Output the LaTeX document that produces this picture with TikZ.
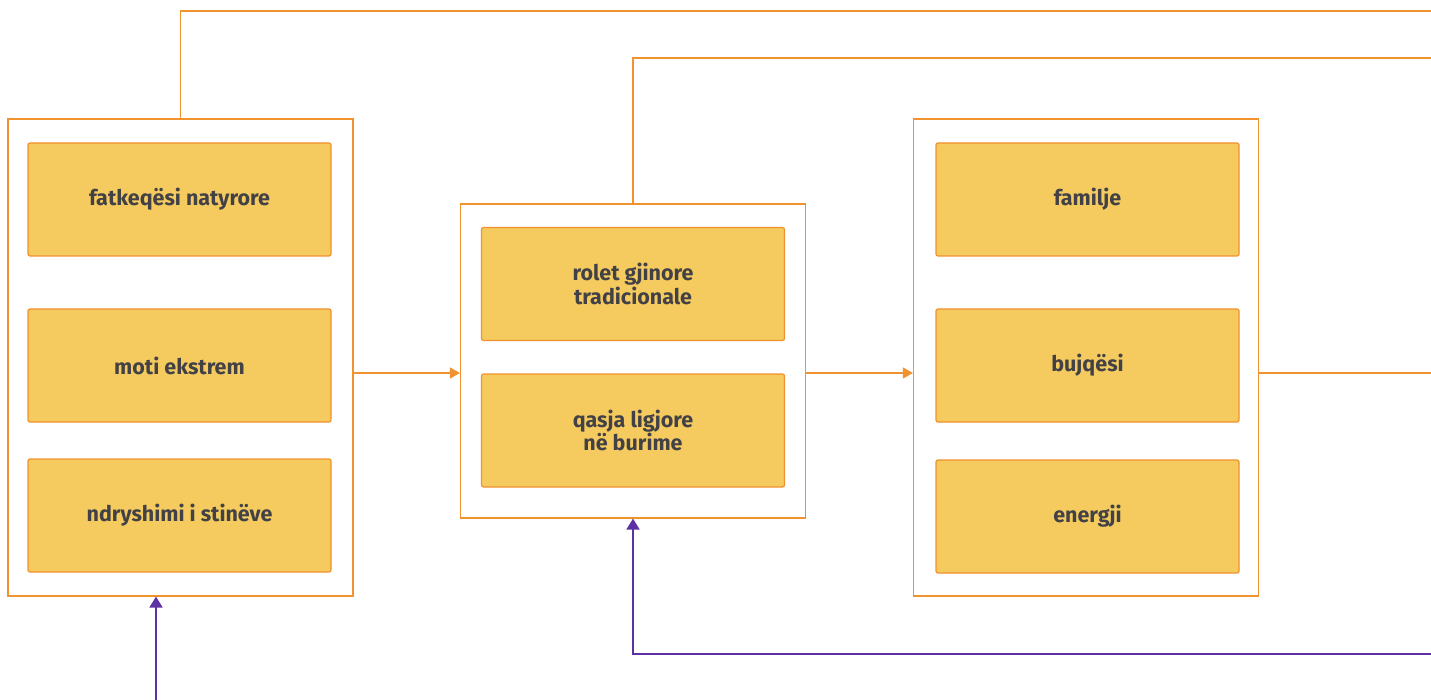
\documentclass[tikz,border=0pt]{standalone}
\usepackage{fontspec}
\setmainfont{Fira Sans}
\usetikzlibrary{positioning, calc, arrows.meta}
\definecolor{orangeline}{HTML}{F0922E}
\definecolor{boxfill}{HTML}{F5CB5F}
\definecolor{purpleline}{HTML}{5E30A6}
\definecolor{textgray}{HTML}{414146}
\begin{document}
\begin{tikzpicture}[x=1pt, y=-1pt,
   group/.style={draw=orangeline, line width=1.2pt, minimum width=345pt, inner sep=0pt},
   factor/.style={draw=orangeline, fill=boxfill, line width=1.2pt, rounded corners=2pt,
      minimum width=303pt, minimum height=113pt, align=center, text=textgray,
      font=\fontsize{21.5}{22}\selectfont\bfseries},
   flow/.style={draw=orangeline, line width=1.3pt, -{Triangle[length=10pt,width=11pt]}},
   back/.style={draw=purpleline, line width=1.8pt, -{Triangle[length=11pt,width=13pt]}}]
   \useasboundingbox (0,0) rectangle (1431,700);

   \node[group, minimum height=477pt] (hazards) at (180.5,357.5) {};
   \node[group, minimum height=314pt] (norms)   at (633,361) {};
   \node[group, minimum height=477pt] (sectors) at (1086,357.5) {};

   \node[factor] (natural) at (179.5,199.5) {fatkeqësi natyrore};
   \node[factor] (extreme) at (179.5,365.5) {moti ekstrem};
   \node[factor] (seasons) at (179.5,515.5) {ndryshimi i stinëve};

   \node[factor] (roles)  at (633,284)   {rolet gjinore\\tradicionale};
   \node[factor] (access) at (633,430.5) {qasja ligjore\\në burime};

   \node[factor] (family)  at (1087.5,199.5) {familje};
   \node[factor] (farming) at (1087.5,365.5) {bujqësi};
   \node[factor] (energy)  at (1087.5,516.5) {energji};

   \coordinate (axis) at (0,373);
   \coordinate (topout) at (1431,11);
   \coordinate (midout) at (1431,58);
   \coordinate (rightout) at (1431,373);
   \coordinate (feedin) at (1431,654);
   \coordinate (source) at (156,700);

   \path[flow] (hazards.east |- axis) -- (norms.west |- axis);
   \path[flow] (norms.east |- axis) -- (sectors.west |- axis);
   \draw[orangeline, line width=1.3pt] (sectors.east |- axis) -- (rightout);
   \draw[orangeline, line width=1.3pt] (hazards.north) |- (topout);
   \draw[orangeline, line width=1.3pt] (norms.north) |- (midout);

   \path[back] (source) -- (source |- hazards.south);
   \path[back] (feedin) -| (norms.south);
\end{tikzpicture}
\end{document}
